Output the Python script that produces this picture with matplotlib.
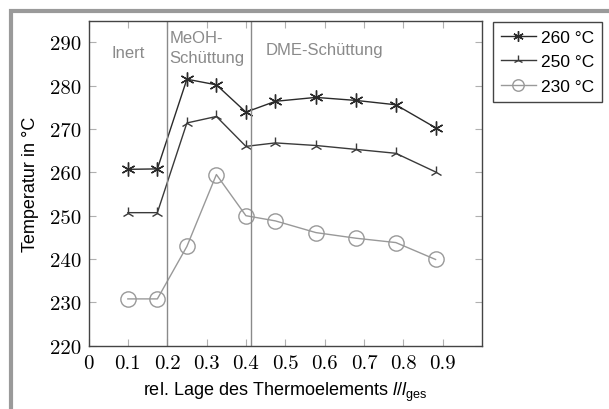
import matplotlib
matplotlib.use("Agg")
import matplotlib.pyplot as plt
from matplotlib.patches import Rectangle

plt.rcParams['font.family'] = ['Liberation Sans', 'DejaVu Sans']
plt.rcParams['mathtext.fontset'] = 'custom'
plt.rcParams['mathtext.rm'] = 'Liberation Sans'
plt.rcParams['mathtext.it'] = 'Liberation Sans:italic'
plt.rcParams['axes.unicode_minus'] = False

# Position der Thermoelemente
pos = [0.1, 0.175, 0.25, 0.325, 0.40, 0.475, 0.578, 0.68, 0.781, 0.882]
t260 = [260.7, 260.8, 281.5, 280.2, 273.9, 276.4, 277.3, 276.6, 275.6, 270.3]
t250 = [250.7, 250.7, 271.4, 272.9, 266.0, 266.8, 266.2, 265.3, 264.4, 260.1]
t230 = [230.8, 230.8, 242.9, 259.5, 250.0, 248.8, 246.1, 244.8, 243.8, 239.9]
labels = ["260 °C", "250 °C", "230 °C"]
xticks = [0, 0.1, 0.2, 0.3, 0.4, 0.5, 0.6, 0.7, 0.8, 0.9]
yticks = [220, 230, 240, 250, 260, 270, 280, 290]
grenzen = [0.2, 0.414]

fig = plt.figure(figsize=(6.09, 4.10), dpi=100)
ax = fig.add_axes([88.5/609, 1-346.7/410, (482-88.5)/609, (346.7-21.7)/410])

ax.plot(pos, t260, color='#2a2a2a', lw=1, marker=(6, 2, 0), ms=10, mew=1, label=labels[0])
ax.plot(pos, t250, color='#3a3a3a', lw=1, marker='2', ms=9, mew=1, label=labels[1])
ax.plot(pos, t230, color='#999999', lw=1, marker='o', ms=11, mfc='none', mew=1, label=labels[2])

for g in grenzen:
    ax.axvline(g, color='#8a8a8a', lw=1)

ax.text(0.1, 287.6, "Inert", color='#8a8a8a', fontsize=12, ha='center', va='center')
ax.text(0.205, 288.8, "MeOH-\nSchüttung", color='#8a8a8a', fontsize=12, ha='left', va='center',
        linespacing=1.45)
ax.text(0.6, 288.4, "DME-Schüttung", color='#8a8a8a', fontsize=12, ha='center', va='center')

ax.set_xlim(0, 1.0)
ax.set_ylim(220, 295)
ax.set_xticks(xticks)
ax.set_yticks(yticks)
ax.set_xticklabels([str(x) if x else "0" for x in xticks], fontfamily='cmr10', fontsize=15)
ax.set_yticklabels([str(y) for y in yticks], fontfamily='cmr10', fontsize=15)
ax.tick_params(direction='in', top=True, right=True, color='#b0b0b0', length=5, width=0.8)
ax.tick_params(axis='x', pad=6)
ax.tick_params(axis='y', pad=5)
for s in ax.spines.values():
    s.set_color('#444444')
    s.set_linewidth(1)

ax.set_ylabel("Temperatur in °C", fontsize=13, labelpad=8)
ax.set_xlabel(r"rel. Lage des Thermoelements $\mathit{l/l}_{\mathrm{ges}}$", fontsize=13, labelpad=6)

leg = fig.legend(loc='upper left', bbox_to_anchor=(493/609, 1-22.7/410), fontsize=12.5,
                 fancybox=False, edgecolor='#444444', framealpha=1, handlelength=2,
                 borderpad=0.45, labelspacing=0.55, handletextpad=0.3, borderaxespad=0,
                 markerscale=0.75)
leg.get_frame().set_linewidth(1)

# grauer Rahmen
fig.patches.append(Rectangle((11/609, -0.1), 1.2, 1-12/410+0.1, transform=fig.transFigure,
                             fill=False, edgecolor='#9a9a9a', lw=3))

fig.savefig("out.png", dpi=100)
